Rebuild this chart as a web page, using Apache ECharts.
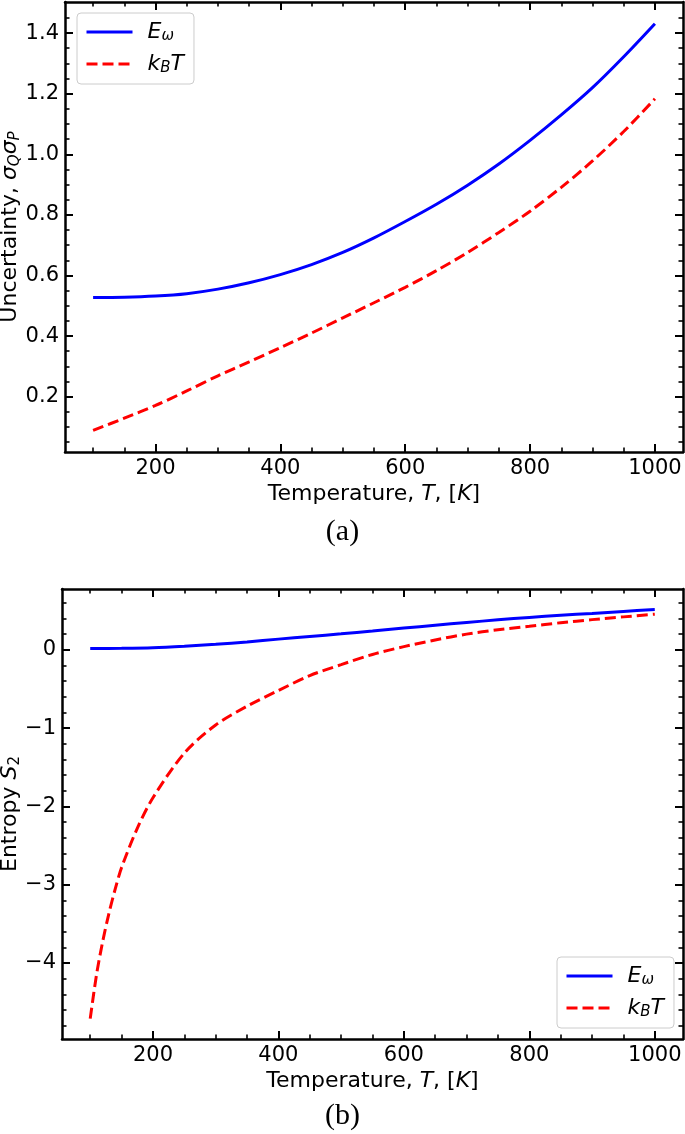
<!DOCTYPE html>
<html>
<head>
<meta charset="utf-8">
<script src="https://cdn.jsdelivr.net/npm/echarts@6/dist/echarts.min.js"></script>
<style>html,body{margin:0;padding:0;background:#fff;}#c{width:685px;height:1134px;}</style>
</head>
<body>
<div id="c"></div>
<script>
// ---- data ----
const T_top = [100,150,200,250,300,350,400,450,500,550,600,650,700,750,800,850,900,950,1000];
const E_top = [0.527,0.528,0.532,0.540,0.555,0.576,0.603,0.636,0.676,0.724,0.778,0.835,0.898,0.968,1.046,1.130,1.220,1.322,1.431];
const K_top = [0.089,0.129,0.171,0.219,0.269,0.315,0.362,0.410,0.460,0.510,0.561,0.616,0.676,0.742,0.812,0.891,0.978,1.075,1.183];

const T_botE = [100,150,200,250,300,350,400,450,500,550,600,650,700,750,800,850,900,950,1000];
const E_bot = [0.017,0.019,0.026,0.045,0.070,0.100,0.136,0.170,0.204,0.240,0.277,0.313,0.349,0.382,0.413,0.440,0.464,0.490,0.515];
const T_botK = [100,110,120,130,140,150,175,200,250,300,350,400,450,500,550,600,650,700,750,800,850,900,950,1000];
const K_bot = [-4.71,-4.15,-3.72,-3.36,-3.05,-2.78,-2.28,-1.89,-1.32,-0.96,-0.72,-0.52,-0.33,-0.19,-0.06,0.04,0.125,0.20,0.255,0.30,0.345,0.385,0.42,0.455];

// ---- ticks ----
const xMajor = [200,400,600,800,1000];
const xMinor = [100,150,200,250,300,350,400,450,500,550,600,650,700,750,800,850,900,950,1000];
const yTopMajor = [0.2,0.4,0.6,0.8,1.0,1.2,1.4];
const yTopMinor = [0.05,0.1,0.15,0.2,0.25,0.3,0.35,0.4,0.45,0.5,0.55,0.6,0.65,0.7,0.75,0.8,0.85,0.9,0.95,1.0,1.05,1.1,1.15,1.2,1.25,1.3,1.35,1.4,1.45];
const yBotMajor = [-4,-3,-2,-1,0];
const yBotMinor = [-4.8,-4.6,-4.4,-4.2,-4,-3.8,-3.6,-3.4,-3.2,-3,-2.8,-2.6,-2.4,-2.2,-2,-1.8,-1.6,-1.4,-1.2,-1,-0.8,-0.6,-0.4,-0.2,0,0.2,0.4,0.6];

const SERIES_E = 'Eω';
const SERIES_K = 'kBT';

const FONT = 'DejaVu Sans';
const BLACK = '#000';
const TICK_FS = 21;
const NAME_FS = 22;
const FRAME_W = 2.5;

function pair(xs, ys){ return xs.map((x,i)=>[x, ys[i]]); }

const nameRich = {
  it:{fontFamily:FONT, fontStyle:'italic', fontSize:NAME_FS, lineHeight:26, color:BLACK},
  sub:{fontFamily:FONT, fontStyle:'italic', fontSize:15, lineHeight:15, verticalAlign:'bottom', color:BLACK},
  subr:{fontFamily:FONT, fontSize:15, lineHeight:15, verticalAlign:'bottom', color:BLACK}
};

function xAxesFor(grid, min, max){
  const base = {type:'value', gridIndex:grid, min:min, max:max, splitLine:{show:false}};
  return [
    Object.assign({}, base, {
      position:'bottom',
      axisLine:{show:true, onZero:false, lineStyle:{color:BLACK, width:FRAME_W}},
      axisTick:{show:true, inside:true, length:8, lineStyle:{color:BLACK, width:2}, customValues:xMajor},
      axisLabel:{show:true, customValues:xMajor, color:BLACK, fontFamily:FONT, fontSize:TICK_FS, margin:6, formatter:v=>String(v)},
      name:'Temperature, {it|T}, [{it|K}]',
      nameLocation:'middle', nameGap:29, nameMoveOverlap:false,
      nameTextStyle:{color:BLACK, fontFamily:FONT, fontSize:NAME_FS, lineHeight:26, rich:nameRich}
    }),
    Object.assign({}, base, {
      position:'bottom',
      axisLine:{show:false, onZero:false},
      axisTick:{show:true, inside:true, length:4.5, lineStyle:{color:BLACK, width:1.6}, customValues:xMinor},
      axisLabel:{show:false}
    }),
    Object.assign({}, base, {
      position:'top',
      axisLine:{show:true, onZero:false, lineStyle:{color:BLACK, width:FRAME_W}},
      axisTick:{show:true, inside:true, length:8, lineStyle:{color:BLACK, width:2}, customValues:xMajor},
      axisLabel:{show:false}
    }),
    Object.assign({}, base, {
      position:'top',
      axisLine:{show:false, onZero:false},
      axisTick:{show:true, inside:true, length:4.5, lineStyle:{color:BLACK, width:1.6}, customValues:xMinor},
      axisLabel:{show:false}
    })
  ];
}

function yAxesFor(grid, min, max, major, minor, fmt, name, nameGap){
  const base = {type:'value', gridIndex:grid, min:min, max:max, splitLine:{show:false}};
  return [
    Object.assign({}, base, {
      position:'left',
      axisLine:{show:true, onZero:false, lineStyle:{color:BLACK, width:FRAME_W}},
      axisTick:{show:true, inside:true, length:8, lineStyle:{color:BLACK, width:2}, customValues:major},
      axisLabel:{show:true, customValues:major, color:BLACK, fontFamily:FONT, fontSize:TICK_FS, margin:6, formatter:fmt},
      name:name, nameLocation:'middle', nameRotate:90, nameGap:nameGap, nameMoveOverlap:false,
      nameTextStyle:{color:BLACK, fontFamily:FONT, fontSize:NAME_FS, lineHeight:26, rich:nameRich}
    }),
    Object.assign({}, base, {
      position:'left',
      axisLine:{show:false, onZero:false},
      axisTick:{show:true, inside:true, length:4.5, lineStyle:{color:BLACK, width:1.6}, customValues:minor},
      axisLabel:{show:false}
    }),
    Object.assign({}, base, {
      position:'right',
      axisLine:{show:true, onZero:false, lineStyle:{color:BLACK, width:FRAME_W}},
      axisTick:{show:true, inside:true, length:8, lineStyle:{color:BLACK, width:2}, customValues:major},
      axisLabel:{show:false}
    }),
    Object.assign({}, base, {
      position:'right',
      axisLine:{show:false, onZero:false},
      axisTick:{show:true, inside:true, length:4.5, lineStyle:{color:BLACK, width:1.6}, customValues:minor},
      axisLabel:{show:false}
    })
  ];
}

const legendRich = {
  it:{fontFamily:FONT, fontStyle:'italic', fontSize:22, lineHeight:24, color:BLACK},
  sub:{fontFamily:FONT, fontStyle:'italic', fontSize:15, lineHeight:15, verticalAlign:'bottom', color:BLACK}
};
function legendFmt(n){
  if (n === SERIES_E) return '{it|E}{sub|ω}';
  return '{it|k}{sub|B}{it|T}';
}
const legendBase = {
  orient:'vertical', itemWidth:46, itemHeight:14, itemGap:8,
  padding:[7,10,8,8],
  borderColor:'#cccccc', borderWidth:1, borderRadius:4,
  backgroundColor:'rgba(255,255,255,0.85)',
  formatter:legendFmt,
  itemStyle:{opacity:0, borderWidth:0},
  lineStyle:{width:3},
  textStyle:{rich:legendRich, fontSize:22, lineHeight:24, padding:[0,0,0,10]},
  data:[SERIES_E, SERIES_K]
};

const minusFmt = v => (v < 0 ? '\u2212' + Math.abs(v) : String(v));

const chart = echarts.init(document.getElementById('c'), null, {renderer:'canvas'});
chart.setOption({
  animation:false,
  backgroundColor:'#fff',
  title:[
    {text:'(a)', left:'center', top:517, padding:0, textStyle:{fontFamily:'Liberation Serif', fontWeight:'normal', fontSize:30, color:BLACK}},
    {text:'(b)', left:'center', top:1101, padding:0, textStyle:{fontFamily:'Liberation Serif', fontWeight:'normal', fontSize:30, color:BLACK}}
  ],
  grid:[
    {left:65, right:2, top:2, height:450, outerBoundsMode:'none', containLabel:false},
    {left:62, right:2, top:589, height:450, outerBoundsMode:'none', containLabel:false}
  ],
  legend:[
    Object.assign({}, legendBase, {left:77, top:13}),
    Object.assign({}, legendBase, {left:557, top:957})
  ],
  xAxis: xAxesFor(0, 55, 1045).concat(xAxesFor(1, 55, 1045)),
  yAxis: yAxesFor(0, 0.0175, 1.5025, yTopMajor, yTopMinor, v => v.toFixed(1),
                  'Uncertainty, {it|σ}{sub|Q}{it|σ}{sub|P}', 42)
        .concat(yAxesFor(1, -4.97, 0.776, yBotMajor, yBotMinor, minusFmt,
                  'Entropy {it|S}{subr|2}', 39)),
  series:[
    {name:SERIES_E, type:'line', xAxisIndex:0, yAxisIndex:0, data:pair(T_top, E_top), symbol:'none', smooth:0.3,
     lineStyle:{color:'#0000ff', width:3}, itemStyle:{color:'#0000ff'}},
    {name:SERIES_K, type:'line', xAxisIndex:0, yAxisIndex:0, data:pair(T_top, K_top), symbol:'none', smooth:0.3,
     lineStyle:{color:'#ff0000', width:3, type:[11,5]}, itemStyle:{color:'#ff0000'}},
    {name:SERIES_E, type:'line', xAxisIndex:4, yAxisIndex:4, data:pair(T_botE, E_bot), symbol:'none', smooth:0.3,
     lineStyle:{color:'#0000ff', width:3}, itemStyle:{color:'#0000ff'}},
    {name:SERIES_K, type:'line', xAxisIndex:4, yAxisIndex:4, data:pair(T_botK, K_bot), symbol:'none', smooth:0.3,
     lineStyle:{color:'#ff0000', width:3, type:[11,5]}, itemStyle:{color:'#ff0000'}}
  ]
});
</script>
</body>
</html>
